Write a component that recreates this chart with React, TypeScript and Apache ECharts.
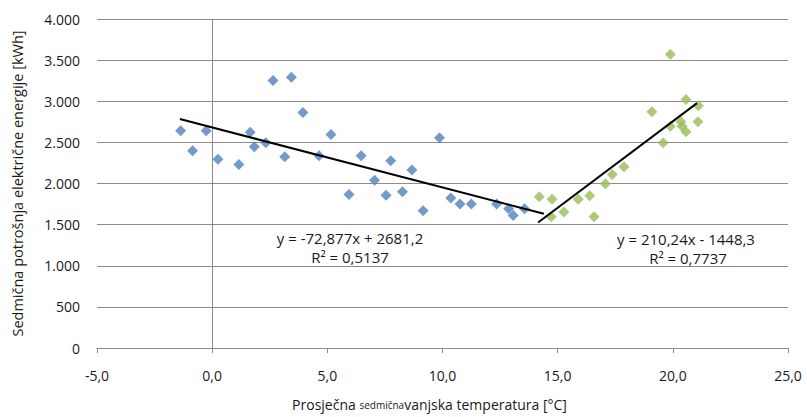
import React, { useEffect, useRef } from "react";
import * as echarts from "echarts";

const blueX = [-1.37, -0.85, -0.26, 0.25, 1.16, 1.65, 1.83, 2.33, 2.64, 3.15, 3.44, 3.94, 4.64, 5.16, 5.94, 6.47, 7.05, 7.55, 7.75, 8.26, 8.67, 9.16, 9.87, 10.36, 10.76, 11.25, 12.35, 12.87, 13.07, 13.56];
const blueY = [2640, 2397, 2640, 2296, 2232, 2624, 2446, 2495, 3253, 2325, 3293, 2864, 2337, 2597, 1867, 2337, 2041, 1857, 2276, 1899, 2163, 1668, 2555, 1823, 1750, 1750, 1750, 1693, 1612, 1693];

const greenX = [14.2, 14.72, 14.76, 15.27, 15.89, 16.39, 16.58, 17.07, 17.37, 17.88, 19.09, 19.58, 19.89, 19.89, 20.35, 20.4, 20.57, 20.57, 21.09, 21.11];
const greenY = [1839, 1596, 1810, 1653, 1807, 1851, 1596, 1997, 2110, 2203, 2872, 2495, 3572, 2697, 2750, 2697, 2628, 3022, 2750, 2944];

const blueTrend = { slope: -72.877, intercept: 2681.2, from: -1.4, to: 14.4 };
const greenTrend = { slope: 210.24, intercept: -1448.3, from: 14.15, to: 21.05 };

const xTicks = { min: -5, max: 25, interval: 5 };
const yTicks = { min: 0, max: 4000, interval: 500 };

const FONT = "'Open Sans', 'Noto Sans', sans-serif";
const TXT = "#1a1a1a";

function trendData(t: { slope: number; intercept: number; from: number; to: number }) {
  return [t.from, t.to].map((x) => [x, t.slope * x + t.intercept]);
}

export default function App() {
  const ref = useRef<HTMLDivElement>(null);
  useEffect(() => {
    if (!ref.current) return;
    const chart = echarts.init(ref.current, undefined, { renderer: "svg" });
    const axisGray = "#8c8c8c";
    chart.setOption({
      animation: false,
      grid: { left: 97, right: 19, top: 19, bottom: 69, containLabel: false, outerBoundsMode: "none" },
      xAxis: {
        type: "value",
        min: xTicks.min,
        max: xTicks.max,
        interval: xTicks.interval,
        axisLine: { onZero: false, lineStyle: { color: axisGray, width: 1 } },
        axisTick: { show: true, length: 5, lineStyle: { color: axisGray } },
        splitLine: { show: false },
        axisLabel: {
          color: TXT,
          fontFamily: FONT,
          fontSize: 14,
          margin: 20,
          formatter: (v: number) => v.toFixed(1).replace(".", ","),
        },
        name: "{a|Prosječna }{b|sedmična}{a|vanjska temperatura [°C]}",
        nameLocation: "middle",
        nameGap: 45,
        nameTextStyle: {
          padding: [0, 26, 0, 0],
          rich: {
            a: { fontFamily: FONT, fontSize: 14, color: TXT, lineHeight: 18, verticalAlign: "bottom" },
            b: { fontFamily: FONT, fontSize: 10, color: TXT, lineHeight: 14, verticalAlign: "bottom", padding: [0, 0, 1, 0] },
          },
        },
      },
      yAxis: {
        type: "value",
        min: yTicks.min,
        max: yTicks.max,
        interval: yTicks.interval,
        axisLine: { show: false },
        axisTick: { show: false },
        splitLine: { show: true, lineStyle: { color: axisGray, width: 1 } },
        axisLabel: {
          color: TXT,
          fontFamily: FONT,
          fontSize: 14,
          margin: 17,
          formatter: (v: number) => (v >= 1000 ? `${Math.floor(v / 1000)}.${String(v % 1000).padStart(3, "0")}` : String(v)),
        },
        name: "Sedmična potrošnja električne energije [kWh]",
        nameLocation: "middle",
        nameGap: 72,
        nameTextStyle: { fontFamily: FONT, fontSize: 14.5, color: TXT },
      },
      series: [
        {
          type: "scatter",
          symbol: "diamond",
          symbolSize: 11,
          itemStyle: { color: "#4f81bd" },
          data: blueX.map((x, i) => [x, blueY[i]]),
          z: 3,
          markLine: {
            silent: true,
            symbol: "none",
            label: { show: false },
            lineStyle: { color: axisGray, type: "solid", width: 1 },
            data: [{ xAxis: 0 }],
            z: 1,
          },
        },
        {
          type: "scatter",
          symbol: "diamond",
          symbolSize: 11,
          itemStyle: { color: "#9bbb59" },
          data: greenX.map((x, i) => [x, greenY[i]]),
          z: 3,
        },
        {
          type: "line",
          data: trendData(blueTrend),
          showSymbol: false,
          symbol: "none",
          lineStyle: { color: "#000", width: 2 },
          z: 4,
        },
        {
          type: "line",
          data: trendData(greenTrend),
          showSymbol: false,
          symbol: "none",
          lineStyle: { color: "#000", width: 2 },
          z: 4,
        },
      ],
      graphic: [
        {
          type: "text",
          x: 350,
          y: 238,
          style: { text: "y = -72,877x + 2681,2", font: `15px ${FONT}`, fill: TXT, align: "center", verticalAlign: "middle" },
        },
        {
          type: "text",
          x: 350,
          y: 257,
          style: { text: "R² = 0,5137", font: `15px ${FONT}`, fill: TXT, align: "center", verticalAlign: "middle" },
        },
        {
          type: "text",
          x: 686,
          y: 239,
          style: { text: "y = 210,24x - 1448,3", font: `15px ${FONT}`, fill: TXT, align: "center", verticalAlign: "middle" },
        },
        {
          type: "text",
          x: 688,
          y: 258,
          style: { text: "R² = 0,7737", font: `15px ${FONT}`, fill: TXT, align: "center", verticalAlign: "middle" },
        },
      ],
    });
    return () => chart.dispose();
  }, []);
  return <div ref={ref} style={{ width: 807, height: 417, position: "absolute", left: 0, top: 0 }} />;
}
